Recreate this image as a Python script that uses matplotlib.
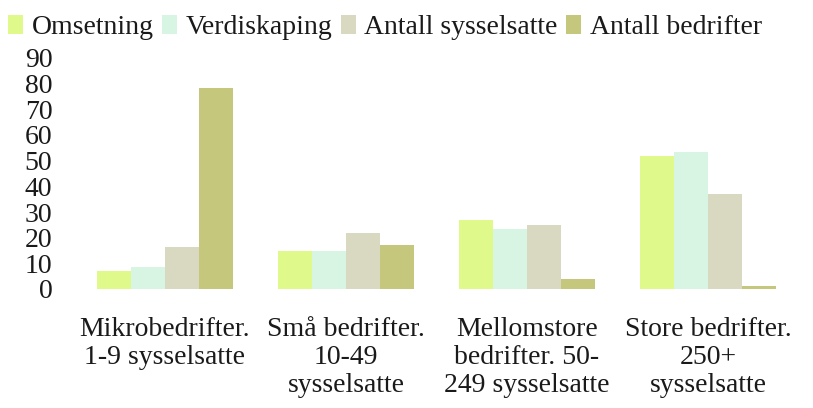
import matplotlib.pyplot as plt
import numpy as np
from matplotlib.patches import Patch

plt.rcParams['font.family'] = ['Liberation Serif', 'DejaVu Serif']

categories = ['Mikrobedrifter.\n1-9 sysselsatte',
              'Små bedrifter.\n10-49\nsysselsatte',
              'Mellomstore\nbedrifter. 50-\n249 sysselsatte',
              'Store bedrifter.\n250+\nsysselsatte']
series = ['Omsetning', 'Verdiskaping', 'Antall sysselsatte', 'Antall bedrifter']
omsetning = [7, 15, 27, 52]
verdiskaping = [8.5, 15, 23.5, 53.5]
sysselsatte = [16.5, 22, 25, 37]
bedrifter = [78.5, 17, 4, 1]
values = [omsetning, verdiskaping, sysselsatte, bedrifter]
colors = ['#dff98a', '#d8f4e2', '#d9d8c0', '#c5c77c']
yticks = [0, 10, 20, 30, 40, 50, 60, 70, 80, 90]

fig = plt.figure(figsize=(8.13, 4.08), dpi=100)
ax = fig.add_axes([74.5 / 813, 119 / 408, 724 / 813, 231 / 408])

x = np.arange(len(categories))
w = 0.188
for i, (vals, c) in enumerate(zip(values, colors)):
    ax.bar(x + (i - 1.5) * w, vals, width=w, color=c, linewidth=0)

ax.set_xlim(-0.5, 3.5)
ax.set_ylim(0, 90)
ax.set_yticks(yticks)
ax.set_xticks(x)
ax.set_xticklabels(categories, fontsize=20, linespacing=1.17, color='#1a1a1a')
ax.tick_params(axis='y', length=0, pad=16, labelsize=20, labelcolor='#1a1a1a')
ax.tick_params(axis='x', length=0, pad=20)
for s in ax.spines.values():
    s.set_visible(False)

handles = [Patch(facecolor=c, edgecolor='none') for c in colors]
fig.legend(handles, series, loc='upper left', bbox_to_anchor=(-0.007, 0.998),
           ncol=4, frameon=False, fontsize=20, handlelength=0.55, handleheight=0.7,
           handletextpad=0.3, columnspacing=0.3, borderaxespad=0.1,
           labelcolor='#1a1a1a')

fig.savefig('out.png', dpi=100)
